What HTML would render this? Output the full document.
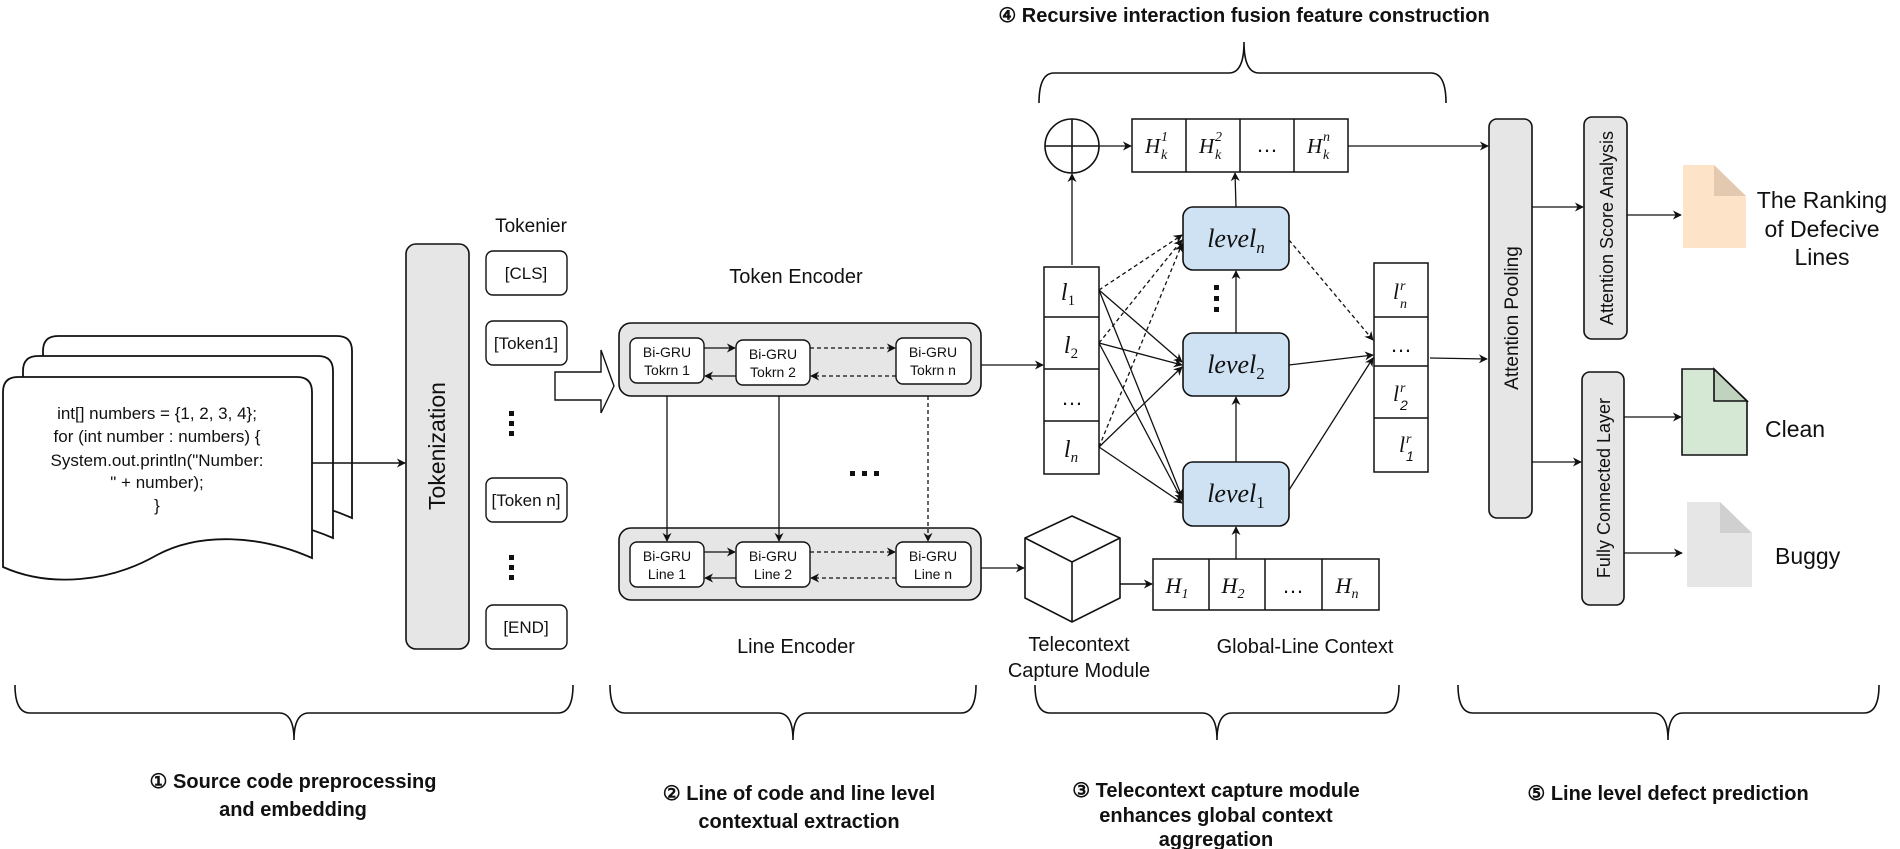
<!DOCTYPE html>
<html><head><meta charset="utf-8"><style>
html,body{margin:0;padding:0;background:#fff;}
svg{display:block;}
text{font-family:"Liberation Sans",sans-serif;fill:#111;}
.m{font-family:"Liberation Serif",serif;font-style:italic;}
.b{font-weight:bold;}
</style></head><body>
<svg width="1900" height="849" viewBox="0 0 1900 849" xmlns="http://www.w3.org/2000/svg">
<defs>
<marker id="a" viewBox="0 0 10 10" refX="9" refY="5" markerWidth="9" markerHeight="9" orient="auto" markerUnits="userSpaceOnUse">
<path d="M0,0 L10,5 L0,10 L3,5 z" fill="#111"/></marker>
</defs>
<g fill="none" stroke="#111" stroke-width="1.6">
<path d="M1039,103 Q1039,73 1054,73 L1229,73 Q1244,73 1244,42 Q1244,73 1259,73 L1431,73 Q1446,73 1446,103"/>
<path d="M15,685 Q15,713 30,713 L279,713 Q294,713 294,740 Q294,713 309,713 L558,713 Q573,713 573,685"/>
<path d="M610,685 Q610,713 625,713 L778,713 Q793,713 793,740 Q793,713 808,713 L961,713 Q976,713 976,685"/>
<path d="M1035,685 Q1035,713 1050,713 L1202,713 Q1217,713 1217,740 Q1217,713 1232,713 L1384,713 Q1399,713 1399,685"/>
<path d="M1458,685 Q1458,713 1473,713 L1653,713 Q1668,713 1668,740 Q1668,713 1683,713 L1864,713 Q1879,713 1879,685"/>
</g>
<g stroke="#111" stroke-width="1.8" fill="#fff">
<path d="M43,351 Q43,336 58,336 L337,336 Q352,336 352,351 L352,518 C300,495 240,492 197,515 C150,540 90,545 43,525 Z"/>
<path d="M23,371 Q23,356 38,356 L318,356 Q333,356 333,371 L333,538 C280,515 220,512 177,535 C130,560 70,565 23,545 Z"/>
<path d="M3,392 Q3,377 18,377 L297,377 Q312,377 312,392 L312,558 C260,535 200,532 157,555 C110,582 50,588 3,567 Z"/>
</g>
<g font-size="17" text-anchor="middle">
<text x="157" y="419">int[] numbers = {1, 2, 3, 4};</text>
<text x="157" y="442">for (int number : numbers) {</text>
<text x="157" y="466">System.out.println("Number:</text>
<text x="157" y="488">" + number);</text>
<text x="157" y="511">}</text>
</g>
<line x1="312" y1="463" x2="405" y2="463" stroke="#111" stroke-width="1.4" marker-end="url(#a)"/>
<rect x="406" y="244" width="63" height="405" rx="10" fill="#e6e6e6" stroke="#111" stroke-width="1.6"/>
<text x="445" y="446" font-size="23" text-anchor="middle" transform="rotate(-90 445 446)">Tokenization</text>
<text x="531" y="232" font-size="19" text-anchor="middle">Tokenier</text>
<g stroke="#111" stroke-width="1.4" fill="#fff">
<rect x="486" y="251" width="81" height="44" rx="7"/>
<rect x="486" y="321" width="81" height="44" rx="7"/>
<rect x="486" y="478" width="81" height="44" rx="7"/>
<rect x="486" y="605" width="81" height="44" rx="7"/>
</g>
<g font-size="17" text-anchor="middle">
<text x="526" y="279">[CLS]</text>
<text x="526" y="349">[Token1]</text>
<text x="526" y="506">[Token n]</text>
<text x="526" y="633">[END]</text>
</g>
<g fill="#111">
<rect x="509" y="411" width="5" height="5"/><rect x="509" y="421" width="5" height="5"/><rect x="509" y="431" width="5" height="5"/>
<rect x="509" y="555" width="5" height="5"/><rect x="509" y="565" width="5" height="5"/><rect x="509" y="575" width="5" height="5"/>
</g>
<path d="M555,372 L601,372 L601,350 L614,386 L601,413 L601,400 L555,400 Z" fill="#fff" stroke="#111" stroke-width="1.4"/>
<text x="796" y="283" font-size="20" text-anchor="middle">Token Encoder</text>
<rect x="619" y="323" width="362" height="73" rx="12" fill="#e6e6e6" stroke="#111" stroke-width="1.6"/>
<rect x="619" y="528" width="362" height="72" rx="12" fill="#e6e6e6" stroke="#111" stroke-width="1.6"/>
<g stroke="#111" stroke-width="1.4" fill="#fff">
<rect x="630" y="338" width="74" height="45" rx="7"/>
<rect x="736" y="340" width="74" height="45" rx="7"/>
<rect x="896" y="338" width="75" height="46" rx="7"/>
<rect x="630" y="542" width="74" height="45" rx="7"/>
<rect x="736" y="542" width="74" height="45" rx="7"/>
<rect x="896" y="542" width="75" height="45" rx="7"/>
</g>
<g font-size="14" text-anchor="middle">
<text x="667" y="357">Bi-GRU</text><text x="667" y="375">Tokrn 1</text>
<text x="773" y="359">Bi-GRU</text><text x="773" y="377">Tokrn 2</text>
<text x="933" y="357">Bi-GRU</text><text x="933" y="375">Tokrn n</text>
<text x="667" y="561">Bi-GRU</text><text x="667" y="579">Line 1</text>
<text x="773" y="561">Bi-GRU</text><text x="773" y="579">Line 2</text>
<text x="933" y="561">Bi-GRU</text><text x="933" y="579">Line n</text>
</g>
<g stroke="#111" stroke-width="1.3" fill="none">
<line x1="704" y1="348" x2="735" y2="348" marker-end="url(#a)"/>
<line x1="736" y1="376" x2="705" y2="376" marker-end="url(#a)"/>
<line x1="810" y1="348" x2="895" y2="348" stroke-dasharray="4,3" marker-end="url(#a)"/>
<line x1="896" y1="376" x2="811" y2="376" stroke-dasharray="4,3" marker-end="url(#a)"/>
<line x1="704" y1="552" x2="735" y2="552" marker-end="url(#a)"/>
<line x1="736" y1="578" x2="705" y2="578" marker-end="url(#a)"/>
<line x1="810" y1="552" x2="895" y2="552" stroke-dasharray="4,3" marker-end="url(#a)"/>
<line x1="896" y1="578" x2="811" y2="578" stroke-dasharray="4,3" marker-end="url(#a)"/>
<line x1="667" y1="396" x2="667" y2="541" marker-end="url(#a)"/>
<line x1="779" y1="396" x2="779" y2="541" marker-end="url(#a)"/>
<line x1="928" y1="396" x2="928" y2="541" stroke-dasharray="4,3" marker-end="url(#a)"/>
<line x1="981" y1="365" x2="1043" y2="365" marker-end="url(#a)"/>
<line x1="981" y1="568" x2="1024" y2="568" marker-end="url(#a)"/>
</g>
<g fill="#111"><rect x="850" y="471" width="5" height="5"/><rect x="862" y="471" width="5" height="5"/><rect x="874" y="471" width="5" height="5"/></g>
<text x="796" y="653" font-size="20" text-anchor="middle">Line Encoder</text>
<g stroke="#111" stroke-width="1.6" fill="#fff">
<path d="M1072,516 L1120,538 L1120,598 L1072,622 L1025,598 L1025,538 Z"/>
<path d="M1025,538 L1072,562 L1120,538 M1072,562 L1072,622" fill="none"/>
</g>
<text x="1079" y="651" font-size="20" text-anchor="middle">Telecontext</text>
<text x="1079" y="677" font-size="20" text-anchor="middle">Capture Module</text>
<line x1="1120" y1="584" x2="1152" y2="584" stroke="#111" stroke-width="1.4" marker-end="url(#a)"/>
<g stroke="#111" stroke-width="1.5" fill="#fff">
<rect x="1153" y="559" width="226" height="51"/>
<line x1="1209" y1="559" x2="1209" y2="610"/><line x1="1265" y1="559" x2="1265" y2="610"/><line x1="1322" y1="559" x2="1322" y2="610"/>
</g>
<g font-size="22" class="m" text-anchor="middle">
<text x="1177" y="593" class="m">H<tspan font-size="14" dy="5">1</tspan></text>
<text x="1233" y="593" class="m">H<tspan font-size="14" dy="5">2</tspan></text>
<text x="1347" y="593" class="m">H<tspan font-size="14" dy="5">n</tspan></text>
</g>
<text x="1293" y="593" font-size="22" text-anchor="middle">…</text>
<text x="1305" y="653" font-size="20" text-anchor="middle">Global-Line Context</text>
<text x="1244" y="22" font-size="20" class="b" text-anchor="middle">④ Recursive interaction fusion feature construction</text>
<g stroke="#111" stroke-width="1.6" fill="#fff">
<circle cx="1072" cy="146" r="27"/>
<line x1="1045" y1="146" x2="1099" y2="146"/><line x1="1072" y1="119" x2="1072" y2="173"/>
</g>
<g stroke="#111" stroke-width="1.5" fill="#fff">
<rect x="1132" y="119" width="216" height="53"/>
<line x1="1186" y1="119" x2="1186" y2="172"/><line x1="1240" y1="119" x2="1240" y2="172"/><line x1="1294" y1="119" x2="1294" y2="172"/>
</g>
<g font-size="21" class="m">
<text x="1145" y="153" class="m">H</text><text x="1161" y="141" font-size="14" class="m">1</text><text x="1161" y="159" font-size="14" class="m">k</text>
<text x="1199" y="153" class="m">H</text><text x="1215" y="141" font-size="14" class="m">2</text><text x="1215" y="159" font-size="14" class="m">k</text>
<text x="1307" y="153" class="m">H</text><text x="1323" y="141" font-size="14" class="m">n</text><text x="1323" y="159" font-size="14" class="m">k</text>
</g>
<text x="1267" y="152" font-size="22" text-anchor="middle">…</text>
<g stroke="#111" stroke-width="1.5" fill="#fff">
<rect x="1044" y="267" width="55" height="207"/>
<line x1="1044" y1="317" x2="1099" y2="317"/><line x1="1044" y1="369" x2="1099" y2="369"/><line x1="1044" y1="421" x2="1099" y2="421"/>
</g>
<g font-size="24" class="m" text-anchor="middle">
<text x="1068" y="300" class="m">l<tspan font-size="15" dy="5" font-style="normal">1</tspan></text>
<text x="1071" y="353" class="m">l<tspan font-size="15" dy="5" font-style="normal">2</tspan></text>
<text x="1071" y="457" class="m">l<tspan font-size="15" dy="5">n</tspan></text>
</g>
<text x="1072" y="405" font-size="22" text-anchor="middle">…</text>
<g stroke="#111" stroke-width="1.6" fill="#cfe2f3">
<rect x="1183" y="207" width="106" height="63" rx="10"/>
<rect x="1183" y="333" width="106" height="63" rx="10"/>
<rect x="1183" y="462" width="106" height="64" rx="10"/>
</g>
<g font-size="26" class="m" text-anchor="middle">
<text x="1236" y="247" class="m">level<tspan font-size="17" dy="6">n</tspan></text>
<text x="1236" y="373" class="m">level<tspan font-size="17" dy="6" font-style="normal">2</tspan></text>
<text x="1236" y="502" class="m">level<tspan font-size="17" dy="6" font-style="normal">1</tspan></text>
</g>
<g fill="#111"><rect x="1214" y="285" width="5" height="5"/><rect x="1214" y="296" width="5" height="5"/><rect x="1214" y="307" width="5" height="5"/></g>
<g stroke="#111" stroke-width="1.5" fill="#fff">
<rect x="1374" y="263" width="54" height="209"/>
<line x1="1374" y1="317" x2="1428" y2="317"/><line x1="1374" y1="366" x2="1428" y2="366"/><line x1="1374" y1="418" x2="1428" y2="418"/>
</g>
<g font-size="22" class="m">
<text x="1393" y="299" class="m">l</text><text x="1400" y="290" font-size="14" class="m">r</text><text x="1400" y="308" font-size="14" class="m">n</text>
<text x="1393" y="401" class="m">l</text><text x="1400" y="392" font-size="14" class="m">r</text><text x="1400" y="410" font-size="14">2</text>
<text x="1399" y="452" class="m">l</text><text x="1406" y="443" font-size="14" class="m">r</text><text x="1406" y="461" font-size="14">1</text>
</g>
<text x="1401" y="352" font-size="22" text-anchor="middle">…</text>
<g stroke="#111" stroke-width="1.3" fill="none">
<line x1="1072" y1="265" x2="1072" y2="174" marker-end="url(#a)"/>
<line x1="1099" y1="146" x2="1131" y2="146" marker-end="url(#a)"/>
<line x1="1236" y1="207" x2="1235" y2="173" marker-end="url(#a)"/>
<line x1="1236" y1="333" x2="1236" y2="271" marker-end="url(#a)"/>
<line x1="1236" y1="462" x2="1236" y2="397" marker-end="url(#a)"/>
<line x1="1236" y1="559" x2="1236" y2="527" marker-end="url(#a)"/>
<g stroke-dasharray="4,3">
<line x1="1099" y1="290" x2="1182" y2="235" marker-end="url(#a)"/>
<line x1="1099" y1="343" x2="1182" y2="240" marker-end="url(#a)"/>
<line x1="1099" y1="447" x2="1182" y2="244" marker-end="url(#a)"/>
<line x1="1289" y1="240" x2="1373" y2="340" marker-end="url(#a)"/>
</g>
<line x1="1099" y1="290" x2="1182" y2="362" marker-end="url(#a)"/>
<line x1="1099" y1="290" x2="1182" y2="497" marker-end="url(#a)"/>
<line x1="1099" y1="343" x2="1182" y2="365" marker-end="url(#a)"/>
<line x1="1099" y1="343" x2="1182" y2="500" marker-end="url(#a)"/>
<line x1="1099" y1="447" x2="1182" y2="367" marker-end="url(#a)"/>
<line x1="1099" y1="447" x2="1182" y2="503" marker-end="url(#a)"/>
<line x1="1289" y1="365" x2="1373" y2="355" marker-end="url(#a)"/>
<line x1="1289" y1="490" x2="1373" y2="358" marker-end="url(#a)"/>
<line x1="1348" y1="146" x2="1488" y2="146" marker-end="url(#a)"/>
<line x1="1430" y1="358" x2="1487" y2="359" marker-end="url(#a)"/>
<line x1="1532" y1="207" x2="1583" y2="207" marker-end="url(#a)"/>
<line x1="1532" y1="462" x2="1581" y2="462" marker-end="url(#a)"/>
<line x1="1627" y1="215" x2="1681" y2="215" marker-end="url(#a)"/>
<line x1="1624" y1="417" x2="1681" y2="417" marker-end="url(#a)"/>
<line x1="1624" y1="553" x2="1682" y2="553" marker-end="url(#a)"/>
</g>
<g stroke="#111" stroke-width="1.6" fill="#e6e6e6">
<rect x="1489" y="119" width="43" height="399" rx="8"/>
<rect x="1584" y="117" width="43" height="222" rx="8"/>
<rect x="1582" y="372" width="42" height="233" rx="8"/>
</g>
<text x="1518" y="318" font-size="19" text-anchor="middle" transform="rotate(-90 1518 318)">Attention Pooling</text>
<text x="1613" y="228" font-size="18" text-anchor="middle" transform="rotate(-90 1613 228)">Attention Score Analysis</text>
<text x="1610" y="488" font-size="18" text-anchor="middle" transform="rotate(-90 1610 488)">Fully Connected Layer</text>
<path d="M1683,165 L1714,165 L1746,196 L1746,248 L1683,248 Z" fill="#fde4c9"/>
<path d="M1714,165 L1746,196 L1714,196 Z" fill="#e3c9b0"/>
<path d="M1682,369 L1714,369 L1747,401 L1747,455 L1682,455 Z" fill="#d5e8d4" stroke="#111" stroke-width="1.6"/>
<path d="M1714,369 L1747,401 L1714,401 Z" fill="#bfd3be" stroke="#111" stroke-width="1.6"/>
<path d="M1687,502 L1720,502 L1752,533 L1752,587 L1687,587 Z" fill="#e6e6e6"/>
<path d="M1720,502 L1752,533 L1720,533 Z" fill="#d0d0d0"/>
<g font-size="23" text-anchor="middle">
<text x="1822" y="208">The Ranking</text>
<text x="1822" y="237">of Defecive</text>
<text x="1822" y="265">Lines</text>
</g>
<text x="1765" y="437" font-size="23">Clean</text>
<text x="1775" y="564" font-size="23">Buggy</text>
<g font-size="20" class="b" text-anchor="middle">
<text x="293" y="788" class="b">① Source code preprocessing</text>
<text x="293" y="816" class="b">and embedding</text>
<text x="799" y="800" class="b">② Line of code and line level</text>
<text x="799" y="828" class="b">contextual extraction</text>
<text x="1216" y="797" class="b">③ Telecontext capture module</text>
<text x="1216" y="822" class="b">enhances global context</text>
<text x="1216" y="846" class="b">aggregation</text>
<text x="1668" y="800" class="b">⑤ Line level defect prediction</text>
</g>
</svg>
</body></html>
